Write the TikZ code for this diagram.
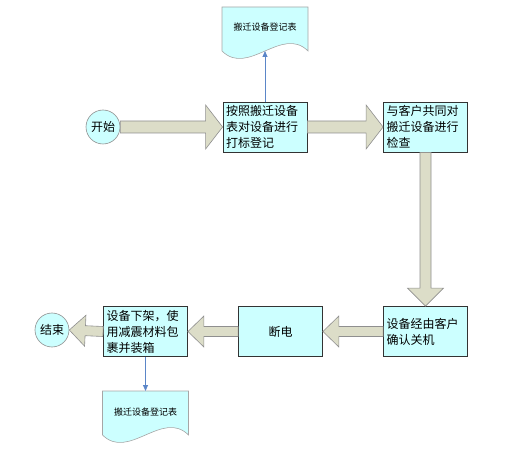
\documentclass[tikz,border=0pt]{standalone}
\usepackage{fontspec}
\newfontfamily\cjk{Noto Sans CJK SC}
\usetikzlibrary{calc,arrows.meta}
\definecolor{boxfill}{HTML}{CCFFFF}
\definecolor{boxline}{HTML}{333333}
\definecolor{arrfill}{HTML}{DCDDC8}
\definecolor{arrline}{HTML}{8F8F8F}
\definecolor{docline}{HTML}{A6A6A6}
\definecolor{thinarrow}{HTML}{5B86C8}
% block arrow: #1 start, #2 end, #3 half shaft, #4 half head, #5 head length
\newcommand{\barrow}[5]{%
  \path[blk] let \p1=(#1), \p2=(#2), \n1={veclen(\x2-\x1,\y2-\y1)},
      \n2={(\x2-\x1)/\n1}, \n3={(\y2-\y1)/\n1} in
    ({\x1-(#3)*\n3*1pt},{\y1+(#3)*\n2*1pt})
    -- ({\x1+(\n1-#5)*\n2*1pt-(#3)*\n3*1pt},{\y1+(\n1-#5)*\n3*1pt+(#3)*\n2*1pt})
    -- ({\x1+(\n1-#5)*\n2*1pt-(#4)*\n3*1pt},{\y1+(\n1-#5)*\n3*1pt+(#4)*\n2*1pt})
    -- (\p2)
    -- ({\x1+(\n1-#5)*\n2*1pt+(#4)*\n3*1pt},{\y1+(\n1-#5)*\n3*1pt-(#4)*\n2*1pt})
    -- ({\x1+(\n1-#5)*\n2*1pt+(#3)*\n3*1pt},{\y1+(\n1-#5)*\n3*1pt-(#3)*\n2*1pt})
    -- ({\x1+(#3)*\n3*1pt},{\y1-(#3)*\n2*1pt}) -- cycle;}
\begin{document}
\begin{tikzpicture}[x=1pt,y=-1pt,
  proc/.style={draw=boxline, fill=boxfill, line width=0.8pt, minimum width=84pt,
    minimum height=50pt, text width=78pt, inner xsep=3pt, inner ysep=0pt, align=left,
    font=\cjk\fontsize{12}{16}\selectfont},
  term/.style={circle, draw=arrline, fill=boxfill, line width=0.6pt, minimum size=34pt,
    inner sep=0pt, font=\cjk\fontsize{12}{14}\selectfont},
  blk/.style={draw=arrline, fill=arrfill, line width=0.6pt, line join=miter},
  docshape/.style={draw=docline, fill=boxfill, line width=0.6pt},
  doctext/.style={font=\cjk\fontsize{9}{11}\selectfont, inner sep=0pt},
  thin/.style={draw=thinarrow, line width=0.8pt, -{Triangle[length=6pt,width=5pt]}}]
\useasboundingbox (0,0) rectangle (530,462);

% documents
\path[docshape] (222,7) -- (308,7) -- (308,51)
  .. controls (282,25) and (248,77) .. (222,51) -- cycle;
\node[doctext] (doc1) at (265,27) {搬迁设备登记表};
\coordinate (doc1b) at (265,51);

\path[docshape] (102.5,391) -- (188.5,391) -- (188.5,435)
  .. controls (162.5,409) and (128.5,461) .. (102.5,435) -- cycle;
\node[doctext] (doc2) at (145.5,412) {搬迁设备登记表};
\coordinate (doc2t) at (145.5,391);

% nodes
\node[term] (start) at (103,127) {开始};
\node[proc] (b1) at (265,127) {按照搬迁设备\\表对设备进行\\打标登记};
\node[proc] (b2) at (425.5,127) {与客户共同对\\搬迁设备进行\\检查};
\node[proc] (b3) at (425.5,331.5) {设备经由客户\\确认关机};
\node[proc, align=center] (b4) at (280.5,331.5) {断电};
\node[proc] (b5) at (145.5,331.5) {设备下架，使\\用减震材料包\\裹并装箱};
\node[term] (end) at (52,330) {结束};

% block arrows
\barrow{start.east}{b1.west}{6}{22}{17}
\barrow{b1.east}{b2.west}{6}{22}{17}
\barrow{b2.south}{b3.north}{5.5}{18}{18}
\barrow{b3.west}{b4.east}{5}{15.5}{16}
\barrow{b4.west}{b5.east}{5}{15.5}{16}
\barrow{b5.west}{end.east}{5}{15.5}{16}

% thin arrows
\draw[thin] (b1.north) -- (doc1b);
\draw[thin] (b5.south) -- (doc2t);
\end{tikzpicture}
\end{document}
